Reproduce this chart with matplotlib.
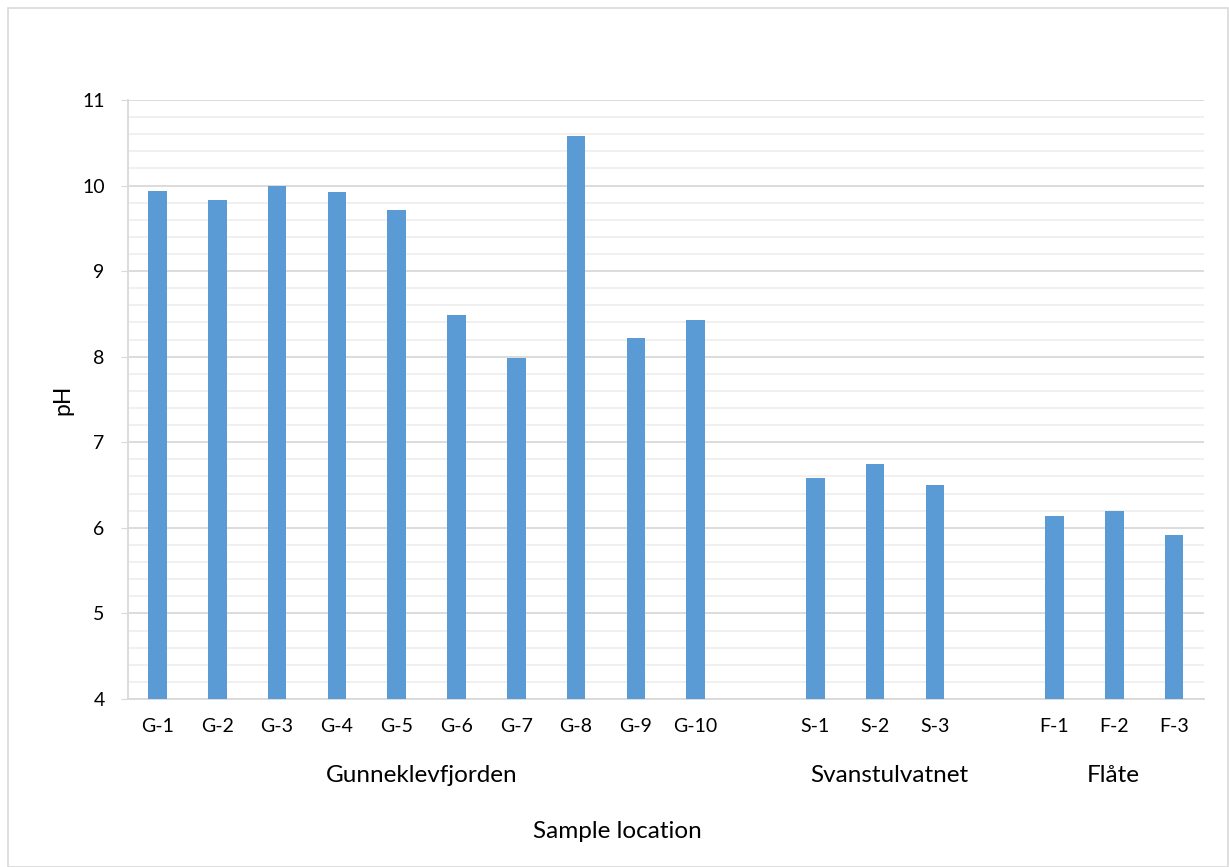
import matplotlib
matplotlib.use('Agg')
import matplotlib.pyplot as plt
from matplotlib.transforms import blended_transform_factory
from matplotlib.patches import Rectangle

# data
g_labels = ['G-1', 'G-2', 'G-3', 'G-4', 'G-5', 'G-6', 'G-7', 'G-8', 'G-9', 'G-10']
g_values = [9.94, 9.83, 9.99, 9.93, 9.71, 8.49, 7.98, 10.58, 8.22, 8.43]
s_labels = ['S-1', 'S-2', 'S-3']
s_values = [6.58, 6.75, 6.50]
f_labels = ['F-1', 'F-2', 'F-3']
f_values = [6.14, 6.20, 5.92]
groups = ['Gunneklevfjorden', 'Svanstulvatnet', 'Flåte']

plt.rcParams['font.family'] = ['Lato', 'DejaVu Sans']

# slot positions, one empty slot between groups
g_pos = list(range(0, 10))
s_pos = list(range(11, 14))
f_pos = list(range(15, 18))
positions = g_pos + s_pos + f_pos
labels = g_labels + s_labels + f_labels
values = g_values + s_values + f_values

fig = plt.figure(figsize=(12.29, 8.67), dpi=100)
ax = fig.add_axes([0.1038, 0.1938, 0.8759, 0.6909])

ax.bar(positions, values, width=0.31, bottom=0, color='#5B9BD5', zorder=3)

ax.set_xlim(-0.5, 17.5)
ax.set_ylim(4, 11)
ax.set_yticks(range(4, 12))
ax.set_yticks([4 + i * 0.2 for i in range(36)], minor=True)
ax.grid(axis='y', which='major', color='#d9d9d9', linewidth=1.3, zorder=0)
ax.grid(axis='y', which='minor', color='#efefef', linewidth=1.3, zorder=0)

ax.set_xticks(positions)
ax.set_xticklabels(labels, fontsize=14)
ax.tick_params(axis='x', length=0, pad=14)
ax.tick_params(axis='y', which='major', length=5, color='#d9d9d9', labelsize=14, pad=11.5)
ax.tick_params(axis='y', which='minor', length=0)

for side in ['top', 'right']:
    ax.spines[side].set_visible(False)
for side in ['left', 'bottom']:
    ax.spines[side].set_color('#d9d9d9')
    ax.spines[side].set_linewidth(1.3)

# group labels under the category labels
trans = blended_transform_factory(ax.transData, ax.transAxes)
group_x = [4.42, 12.24, 15.98]
for name, x in zip(groups, group_x):
    ax.text(x, -0.128, name, transform=trans, ha='center', va='center', fontsize=17.5)

fig.text(617 / 1229, 1 - 831 / 867, 'Sample location', ha='center', va='center', fontsize=17.5)
fig.text(63 / 1229, 1 - 400 / 867, 'pH', ha='center', va='center', rotation=90, fontsize=16.5)

# chart border
fig.patches.append(Rectangle((8 / 1229, 0.0), 1 - 9 / 1229, 1 - 8 / 867, transform=fig.transFigure,
                             fill=False, edgecolor='#d9d9d9', linewidth=1.2))

fig.savefig('out.png', dpi=100)
